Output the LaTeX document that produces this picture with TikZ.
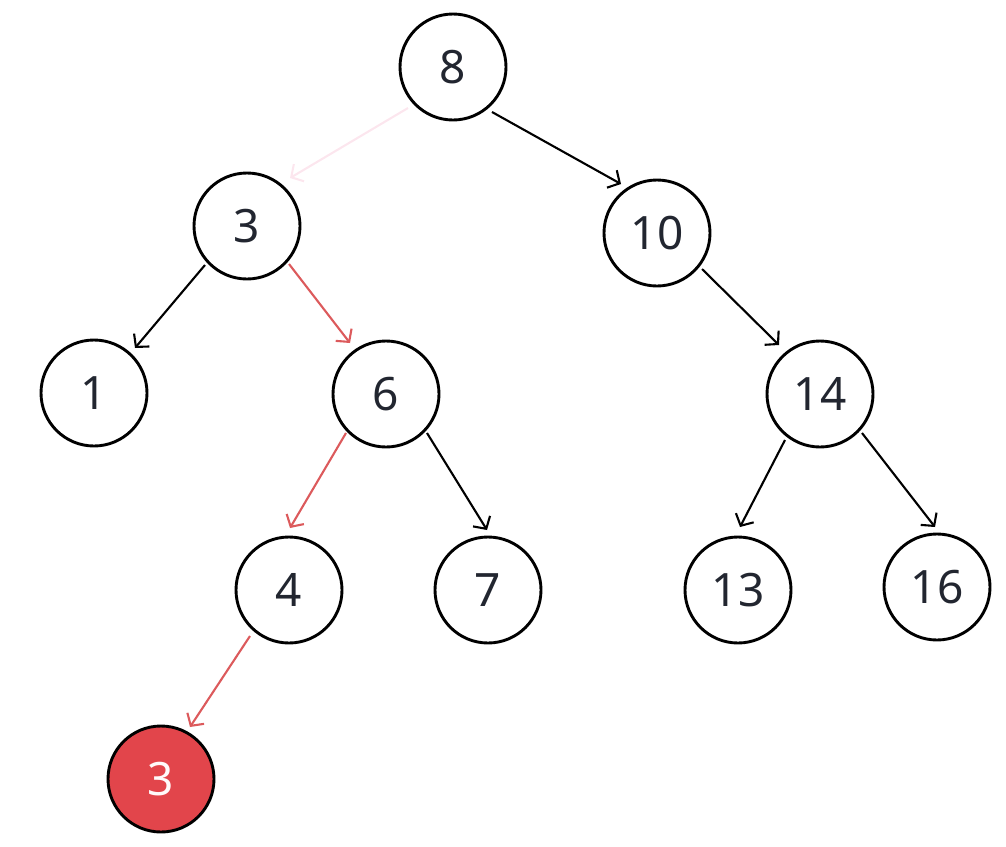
\documentclass[tikz,border=0pt]{standalone}
\usepackage{fontspec}
\setmainfont{Noto Sans}
\usetikzlibrary{arrows.meta,calc}
\definecolor{txt}{HTML}{222630}
\definecolor{redfill}{HTML}{E2454B}
\definecolor{rededge}{HTML}{DC5A5C}
\definecolor{faint}{HTML}{FCE6EE}
\begin{document}
\begin{tikzpicture}[x=1pt,y=-1pt,
  nd/.style={circle,draw=black,line width=2.9pt,minimum size=106pt,inner sep=0pt,
    font=\fontsize{46}{46}\selectfont,text=txt},
  hl/.style={nd,fill=redfill,text=white!92!pink},
  edge/.style={line width=2.1pt,-{Straight Barb[length=9pt,width=20pt,line width=2.1pt]}},
  redge/.style={edge,draw=rededge},
  fedge/.style={edge,draw=faint}]
\useasboundingbox (0,0) rectangle (1006,846);
\node[nd] (n8) at (453,67) {8};
\node[nd] (n3) at (247,226) {3};
\node[nd] (n10) at (657,233) {10};
\node[nd] (n1) at (94,393) {1};
\node[nd] (n6) at (386,394) {6};
\node[nd] (n14) at (820,394) {14};
\node[nd] (n4) at (289,590) {4};
\node[nd] (n7) at (488,590) {7};
\node[nd] (n13) at (738,590) {13};
\node[nd] (n16) at (937,587) {16};
\node[hl] (r3) at (161,779) {3};
\draw[fedge] ($(n8)+(-45,41)$) -- ($(n3)+(43,-48)$);
\draw[edge] ($(n8)+(39,45)$) -- ($(n10)+(-36,-49)$);
\draw[edge] ($(n3)+(-42,39)$) -- ($(n1)+(41,-45)$);
\draw[redge] ($(n3)+(42,38)$) -- ($(n6)+(-36,-51)$);
\draw[edge] ($(n10)+(45,36)$) -- ($(n14)+(-41,-49)$);
\draw[redge] ($(n6)+(-40,39)$) -- ($(n4)+(1,-62)$);
\draw[edge] ($(n6)+(41,39)$) -- ($(n7)+(-1,-60)$);
\draw[edge] ($(n14)+(-35,46)$) -- ($(n13)+(2,-63)$);
\draw[edge] ($(n14)+(42,39)$) -- ($(n16)+(-2,-60)$);
\draw[redge] ($(n4)+(-39,46)$) -- ($(r3)+(29,-52)$);
\end{tikzpicture}
\end{document}
